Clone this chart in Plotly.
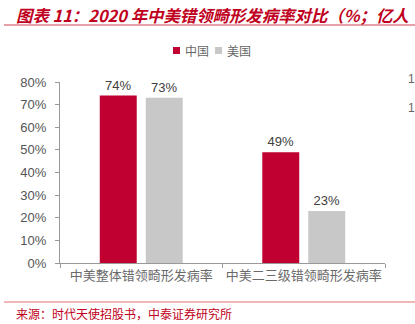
import plotly.graph_objects as go

categories = ["中美整体错领畸形发病率", "中美二三级错领畸形发病率"]
china = [74, 49]
usa = [73, 23]
series_names = ["中国", "美国"]
series_colors = ["#C00030", "#C8C8C8"]
y_ticks = [0, 10, 20, 30, 40, 50, 60, 70, 80]

W, H = 415, 324
L, R, T, B = 60, 30, 82, 61
PW, PH = W - L - R, H - T - B

def px_x(px):
    return (px - L) / PW

def px_y(py):
    return (H - B - py) / PH

CJK = "Noto Sans CJK SC, Liberation Sans, sans-serif"
LAT = "Liberation Sans, Arial, Noto Sans CJK SC, sans-serif"

fig = go.Figure()
for name, vals, col in zip(series_names, [china, usa], series_colors):
    fig.add_bar(x=categories, y=vals, name=name, marker_color=col, marker_line_width=0,
                text=[f"{v}%" for v in vals], textposition="outside", cliponaxis=False,
                textfont=dict(family=LAT, size=13, color="#404040"))

fig.update_layout(
    width=W, height=H,
    margin=dict(l=L, r=R, t=T, b=B, pad=0, autoexpand=False),
    paper_bgcolor="white", plot_bgcolor="white",
    barmode="group", bargap=0.434, bargroupgap=0.196,
    showlegend=False,
    xaxis=dict(showline=True, linecolor="#999999", linewidth=1, ticks="outside",
               tickcolor="#999999", ticklen=4, tickson="boundaries", tickangle=0, automargin=False,
               tickfont=dict(family=CJK, size=13, color="#6A6A6A"), showgrid=False, fixedrange=True),
    yaxis=dict(range=[0, 80], tickvals=y_ticks, ticktext=[f"{v}%" for v in y_ticks],
               showline=True, linecolor="#999999", linewidth=1, ticks="outside", automargin=False,
               tickcolor="#999999", ticklen=4, showgrid=False, zeroline=False,
               tickfont=dict(family=LAT, size=13, color="#555555"), ticklabelstandoff=6),
)

# manual legend
leg_x = [173, 215]
for name, col, lx in zip(series_names, series_colors, leg_x):
    fig.add_shape(type="rect", xref="paper", yref="paper", x0=px_x(lx), x1=px_x(lx + 7),
                  y0=px_y(54), y1=px_y(47), fillcolor=col, line_width=0)
    fig.add_annotation(xref="paper", yref="paper", x=px_x(lx + 10), y=px_y(50.5), xanchor="left",
                       yanchor="middle", text=name, showarrow=False,
                       font=dict(family=CJK, size=12, color="#666666"))

fig.add_annotation(xref="paper", yref="paper", x=px_x(14), y=px_y(15), xanchor="left", yanchor="middle",
                   text="<b><i>图表 11：2020 年中美错领畸形发病率对比（%；亿人</i></b>", showarrow=False,
                   font=dict(family=CJK, size=16.4, color="#C00020"))
fig.add_annotation(xref="paper", yref="paper", x=px_x(14), y=px_y(313), xanchor="left", yanchor="middle",
                   text="来源：时代天使招股书，中泰证券研究所", showarrow=False,
                   font=dict(family=CJK, size=12, color="#C00020"))
for yy in (79, 108):
    fig.add_annotation(xref="paper", yref="paper", x=px_x(406), y=px_y(yy), xanchor="left", yanchor="middle",
                       text="1", showarrow=False, font=dict(family=LAT, size=12, color="#666666"))

fig.add_shape(type="line", xref="paper", yref="paper", x0=px_x(4), x1=px_x(415), y0=px_y(25), y1=px_y(25),
              line=dict(color="#D04050", width=1))
fig.add_shape(type="line", xref="paper", yref="paper", x0=px_x(4), x1=px_x(415), y0=px_y(302), y1=px_y(302),
              line=dict(color="#E07070", width=1))

fig.write_html("out.html")
